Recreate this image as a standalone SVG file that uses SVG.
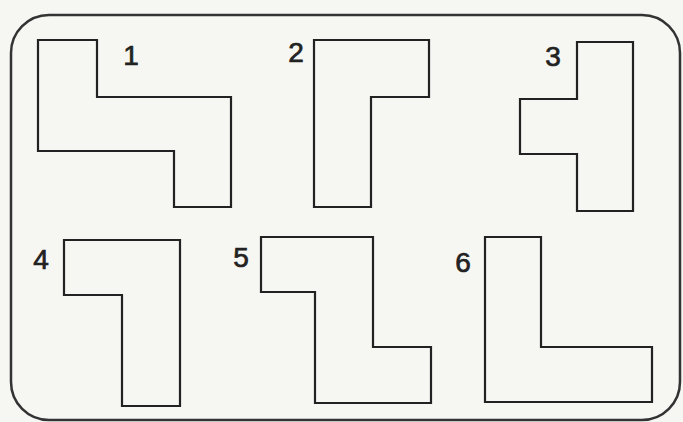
<svg xmlns="http://www.w3.org/2000/svg" width="683" height="422" viewBox="0 0 683 422">
<style>
.bg{fill:#f6f6f3}
.frame{fill:none;stroke:#333;stroke-width:2.5}
.shape{fill:none;stroke:#222;stroke-width:2.2;stroke-linejoin:miter}
.lbl{font-family:"Liberation Sans",Arial,sans-serif;font-size:28px;fill:#222;stroke:#222;stroke-width:0.7;text-anchor:middle}
</style>
<rect class="bg" x="0" y="0" width="683" height="422"/>
<rect class="frame" x="11" y="15" width="669" height="405" rx="38" ry="38"/>
<g id="piece1">
<polygon class="shape" points="38,40 97,40 97,97 231,97 231,207 174,207 174,151 38,151"/>
<text class="lbl" x="131" y="65">1</text>
</g>
<g id="piece2">
<polygon class="shape" points="314,40 429,40 429,97 371,97 371,207 314,207"/>
<text class="lbl" x="296" y="62">2</text>
</g>
<g id="piece3">
<polygon class="shape" points="577,42 633,42 633,211 577,211 577,154 520,154 520,99 577,99"/>
<text class="lbl" x="553" y="66">3</text>
</g>
<g id="piece4">
<polygon class="shape" points="64,240 180,240 180,406 122,406 122,295 64,295"/>
<text class="lbl" x="41" y="269">4</text>
</g>
<g id="piece5">
<polygon class="shape" points="261,237 373,237 373,347 431,347 431,403 315,403 315,292 261,292"/>
<text class="lbl" x="241" y="267">5</text>
</g>
<g id="piece6">
<polygon class="shape" points="485,237 541,237 541,347 652,347 652,402 485,402"/>
<text class="lbl" x="463" y="272">6</text>
</g>
<g id="connectors"></g>
</svg>
